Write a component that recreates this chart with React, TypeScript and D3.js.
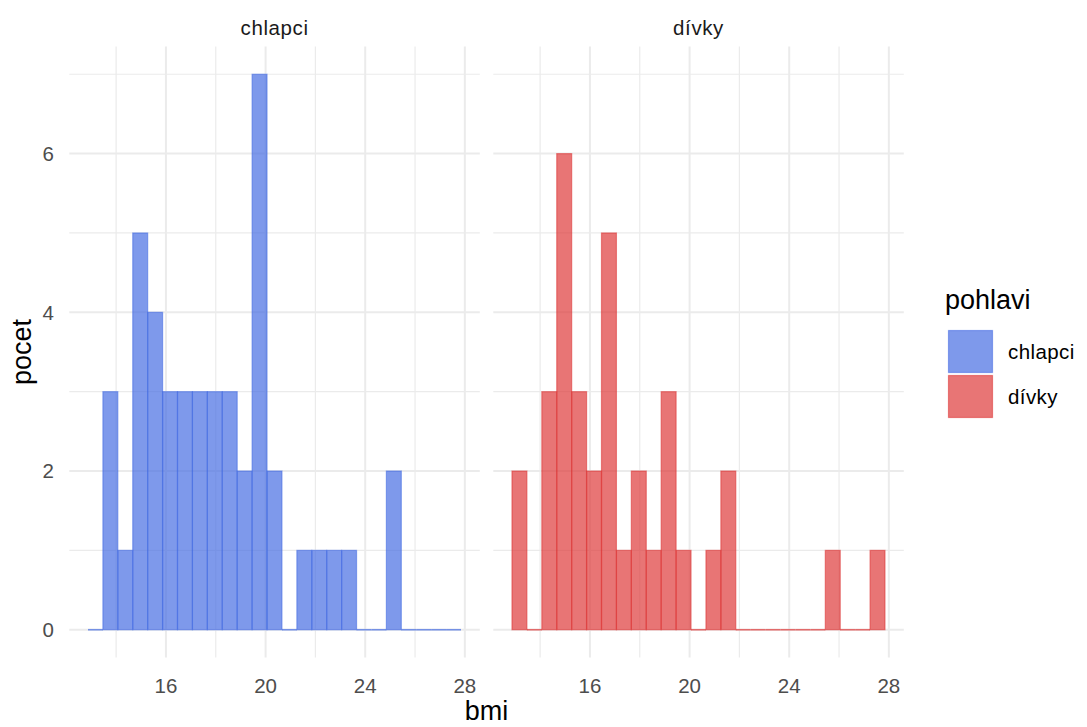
import React from "react";
import * as d3 from "d3";

const facets = ["chlapci", "dívky"];
const facetColors = ["#4169e1", "#dd3333"];
const bmiBinStart = 12.87;
const bmiBinWidth = 0.599;
const countsChlapci = [0, 3, 1, 5, 4, 3, 3, 3, 3, 3, 2, 7, 2, 0, 1, 1, 1, 1, 0, 0, 2, 0, 0, 0, 0];
const countsDivky = [2, 0, 3, 6, 3, 2, 5, 1, 2, 1, 3, 1, 0, 1, 2, 0, 0, 0, 0, 0, 0, 1, 0, 0, 1];
const xMajorTicks = [16, 20, 24, 28];
const xMinorTicks = [14, 18, 22, 26];
const yMajorTicks = [0, 2, 4, 6];
const yMinorTicks = [1, 3, 5, 7];
const legendTitle = "pohlavi";
const xTitle = "bmi";
const yTitle = "pocet";

const W = 1087;
const H = 727;
const panelLefts = [69.3, 493.3];
const panelWidth = 410.5;
const panelTop = 46.5;
const panelBottom = 657.5;
const FONT = "'Liberation Sans', Arial, sans-serif";
const TXT = 20.5;
const TTL = 27;

export default function App() {
  const seriesCounts = [countsChlapci, countsDivky];
  const y = d3.scaleLinear().domain([-0.35, 7.35]).range([panelBottom, panelTop]);
  const grid = "#ebebeb";
  return (
    <svg width={W} height={H} style={{ position: "absolute", left: 0, top: 0, background: "#fff" }} fontFamily={FONT}>
      {facets.map((f, i) => {
        const x = d3.scaleLinear().domain([12.12, 28.6]).range([panelLefts[i], panelLefts[i] + panelWidth]);
        const counts = seriesCounts[i];
        const bins = counts.map((c, k) => ({ x0: bmiBinStart + k * bmiBinWidth, x1: bmiBinStart + (k + 1) * bmiBinWidth, c }));
        return (
          <g key={f}>
            {yMinorTicks.map((t) => (
              <line key={"ym" + t} x1={x.range()[0]} x2={x.range()[1]} y1={y(t)} y2={y(t)} stroke={grid} strokeWidth={1.2} />
            ))}
            {xMinorTicks.map((t) => (
              <line key={"xm" + t} x1={x(t)} x2={x(t)} y1={panelTop} y2={panelBottom} stroke={grid} strokeWidth={1.2} />
            ))}
            {yMajorTicks.map((t) => (
              <line key={"yM" + t} x1={x.range()[0]} x2={x.range()[1]} y1={y(t)} y2={y(t)} stroke={grid} strokeWidth={2} />
            ))}
            {xMajorTicks.map((t) => (
              <line key={"xM" + t} x1={x(t)} x2={x(t)} y1={panelTop} y2={panelBottom} stroke={grid} strokeWidth={2} />
            ))}
            {bins.map((b, k) =>
              b.c > 0 ? (
                <rect
                  key={k}
                  x={x(b.x0)}
                  y={y(b.c)}
                  width={x(b.x1) - x(b.x0)}
                  height={y(0) - y(b.c)}
                  fill={facetColors[i]}
                  fillOpacity={0.68}
                  stroke={facetColors[i]}
                  strokeOpacity={0.55}
                  strokeWidth={1.2}
                />
              ) : (
                <line
                  key={k}
                  x1={x(b.x0)}
                  x2={x(b.x1)}
                  y1={y(0)}
                  y2={y(0)}
                  stroke={facetColors[i]}
                  strokeOpacity={0.7}
                  strokeWidth={1.6}
                />
              )
            )}
            <text x={(x.range()[0] + x.range()[1]) / 2} y={35} textAnchor="middle" fontSize={TXT} letterSpacing={0.6} fill="#1a1a1a">
              {f}
            </text>
            {xMajorTicks.map((t) => (
              <text key={"xl" + t} x={x(t)} y={693} textAnchor="middle" fontSize={TXT} fill="#4d4d4d">
                {t}
              </text>
            ))}
          </g>
        );
      })}
      {yMajorTicks.map((t) => (
        <text key={"yl" + t} x={54} y={y(t)} dy="0.36em" textAnchor="end" fontSize={TXT} fill="#4d4d4d">
          {t}
        </text>
      ))}
      <text x={(panelLefts[0] + panelLefts[1] + panelWidth) / 2} y={720} textAnchor="middle" fontSize={TTL} fill="#000">
        {xTitle}
      </text>
      <text transform={`translate(31, ${(panelTop + panelBottom) / 2}) rotate(-90)`} textAnchor="middle" fontSize={TTL} fill="#000">
        {yTitle}
      </text>
      <text x={945} y={309} fontSize={TTL} fill="#000">
        {legendTitle}
      </text>
      {facets.map((f, i) => (
        <g key={"lg" + f}>
          <rect x={948.5} y={330.5 + i * 45} width={44} height={42} fill={facetColors[i]} fillOpacity={0.68} stroke={facetColors[i]} strokeOpacity={0.55} strokeWidth={1.2} />
          <text x={1008} y={351.5 + i * 45} dy="0.36em" fontSize={TXT} letterSpacing={0.4} fill="#000">
            {f}
          </text>
        </g>
      ))}
    </svg>
  );
}
